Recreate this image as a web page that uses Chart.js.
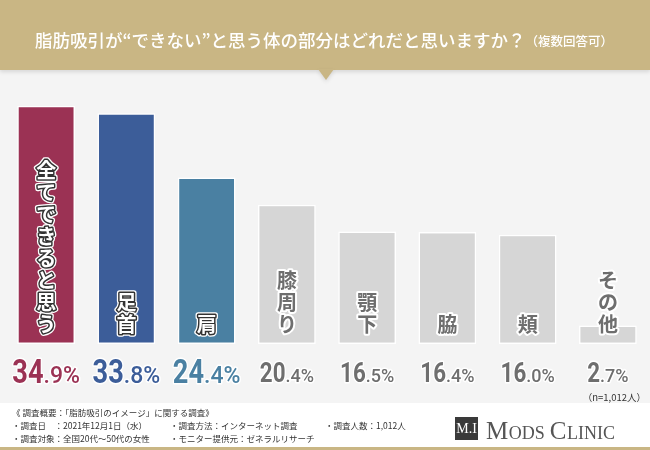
<!DOCTYPE html>
<html>
<head>
<meta charset="utf-8">
<script src="https://cdn.jsdelivr.net/npm/chart.js@4.4.0/dist/chart.umd.min.js"></script>
<style>
  html, body { margin: 0; padding: 0; background: #f4f4f4; }
  #wrap { width: 650px; height: 450px; position: relative; }
</style>
</head>
<body>
<div id="wrap"><canvas id="myChart" width="650" height="450"></canvas></div>
<script>
// データ
const categories = ['全てできると思う', '足首', '肩', '膝周り', '顎下', '脇', '頬', 'その他'];
const values = [34.9, 33.8, 24.4, 20.4, 16.5, 16.4, 16.0, 2.7];
const barColors = ['#9b3254', '#3c5d99', '#4a80a2', '#d6d6d6', '#d6d6d6', '#d6d6d6', '#d6d6d6', '#d6d6d6'];
const numColors = ['#9b3254', '#3c5d99', '#4a80a2', '#6e6e6e', '#6e6e6e', '#6e6e6e', '#6e6e6e', '#6e6e6e'];

const titleMain = '脂肪吸引が“できない”と思う体の部分はどれだと思いますか？';
const titleSub = '（複数回答可）';
const sampleNote = '（n=1,012人）';
const footerLines = [
  { x: 12, y: 413, t: '《 調査概要：「脂肪吸引のイメージ」に関する調査》' },
  { x: 12, y: 426, t: '・調査日　：2021年12月1日（水）' },
  { x: 170, y: 426, t: '・調査方法：インターネット調査' },
  { x: 325, y: 426, t: '・調査人数：1,012人' },
  { x: 12, y: 439, t: '・調査対象：全国20代〜50代の女性' },
  { x: 170, y: 439, t: '・モニター提供元：ゼネラルリサーチ' }
];

const JP = '"Noto Sans CJK JP", "Noto Sans", sans-serif';
const NUM = '"Roboto", "Liberation Sans", sans-serif';

// 背景・ヘッダー・フッター
const framePlugin = {
  id: 'frame',
  beforeDraw(chart) {
    const c = chart.ctx;
    c.save();
    c.fillStyle = '#f4f4f4';
    c.fillRect(0, 0, 650, 450);
    // ヘッダー
    c.shadowColor = 'rgba(0,0,0,0.12)';
    c.shadowBlur = 4;
    c.shadowOffsetY = 2;
    c.fillStyle = '#c9b684';
    c.fillRect(0, 0, 650, 70);
    c.beginPath();
    c.moveTo(318, 69);
    c.lineTo(334, 69);
    c.lineTo(326, 80);
    c.closePath();
    c.fill();
    c.shadowColor = 'transparent';
    c.fillStyle = '#ffffff';
    c.textBaseline = 'middle';
    c.font = '500 17.5px ' + JP;
    const w1 = c.measureText(titleMain).width;
    c.font = '500 12.5px ' + JP;
    const w2 = c.measureText(titleSub).width;
    let x = 324 - (w1 + w2) / 2;
    c.font = '500 17.5px ' + JP;
    c.textAlign = 'left';
    c.fillText(titleMain, x, 40);
    c.font = '500 12.5px ' + JP;
    c.fillText(titleSub, x + w1, 41);
    // フッター
    c.fillStyle = '#ffffff';
    c.fillRect(0, 403, 650, 45);
    c.fillStyle = '#c9b684';
    c.fillRect(0, 447, 650, 3);
    c.fillStyle = '#333333';
    c.font = '8.5px ' + JP;
    footerLines.forEach(l => c.fillText(l.t, l.x, l.y));
    // ロゴ
    c.fillStyle = '#3a3a3a';
    c.fillRect(455, 417, 23, 23);
    c.fillStyle = '#ffffff';
    c.font = '14px "Liberation Serif", serif';
    c.textAlign = 'center';
    c.fillText('M.I', 466.5, 429);
    c.fillStyle = '#555555';
    c.textAlign = 'left';
    c.textBaseline = 'alphabetic';
    const parts = [['M', 25], ['ODS ', 18], ['C', 25], ['LINIC', 18]];
    let lx = 486;
    parts.forEach(p => {
      c.font = p[1] + 'px "Liberation Serif", serif';
      c.fillText(p[0], lx, 439);
      lx += c.measureText(p[0]).width + 0.5;
    });
    c.restore();
  },
  afterDatasetsDraw(chart) {
    const c = chart.ctx;
    const meta = chart.getDatasetMeta(0);
    c.save();
    c.lineJoin = 'round';
    meta.data.forEach((bar, i) => {
      // 縦書きラベル
      const chars = Array.from(categories[i]);
      const step = 22;
      c.font = 'bold 20px ' + JP;
      c.textAlign = 'center';
      c.textBaseline = 'middle';
      chars.forEach((ch, k) => {
        const cy = 334 - (chars.length - 1 - k) * step - 10;
        if (i < 3) {
          c.lineWidth = 5.5; c.strokeStyle = '#ffffff'; c.strokeText(ch, bar.x, cy);
          c.lineWidth = 3; c.strokeStyle = '#333333'; c.strokeText(ch, bar.x, cy);
          c.fillStyle = '#ffffff'; c.fillText(ch, bar.x, cy);
        } else {
          c.lineWidth = 4; c.strokeStyle = '#ffffff'; c.strokeText(ch, bar.x, cy);
          c.fillStyle = '#6e6e6e'; c.fillText(ch, bar.x, cy);
        }
      });
      // 数値：整数部は縦長、小数部と%は小さめ
      const s = values[i].toFixed(1);
      const ip = s.split('.')[0];
      const dp = '.' + s.split('.')[1] + '%';
      const big = i < 3 ? 34 : 28;
      const small = i < 3 ? 23 : 18;
      const base = i < 3 ? 383 : 382;
      const sxI = 0.8;
      c.textBaseline = 'alphabetic';
      c.textAlign = 'left';
      const bigF = 'bold ' + big + 'px ' + NUM;
      const smF = '500 ' + small + 'px ' + NUM;
      c.font = bigF; const wb = c.measureText(ip).width * sxI;
      c.font = smF; const ws = c.measureText(dp).width;
      const x0 = bar.x - (wb + ws) / 2;
      c.lineWidth = 3; c.strokeStyle = '#ffffff';
      c.fillStyle = numColors[i];
      c.save();
      c.translate(x0, base); c.scale(sxI, 1);
      c.font = bigF; c.strokeText(ip, 0, 0); c.fillText(ip, 0, 0);
      c.restore();
      c.font = smF;
      c.strokeText(dp, x0 + wb, base); c.fillText(dp, x0 + wb, base);
    });
    c.fillStyle = '#333333';
    c.font = '9.5px ' + JP;
    c.textAlign = 'right';
    c.fillText(sampleNote, 646, 401);
    c.restore();
  }
};

var ctx = document.getElementById('myChart');
var myChart = new Chart(ctx, {
  type: 'bar',
  data: {
    labels: categories,
    datasets: [{
      data: values,
      backgroundColor: barColors,
      borderColor: '#ffffff',
      borderWidth: 1.5,
      borderSkipped: false,
      categoryPercentage: 1,
      barPercentage: 0.72
    }]
  },
  options: {
    responsive: false,
    animation: false,
    layout: { padding: { top: 71, bottom: 106, left: 6, right: 2 } },
    plugins: { legend: { display: false }, tooltip: { enabled: false } },
    scales: {
      x: { display: false },
      y: { display: false, min: 0, max: 40 }
    }
  },
  plugins: [framePlugin]
});
</script>
</body>
</html>
